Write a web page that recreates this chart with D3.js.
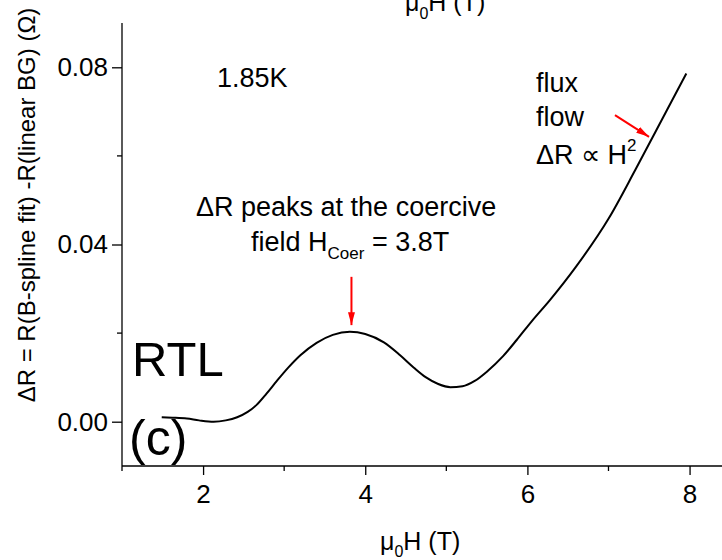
<!DOCTYPE html>
<html>
<head>
<meta charset="utf-8">
<script src="https://cdn.jsdelivr.net/npm/d3@7"></script>
<style>
  body { margin: 0; background: #fff; }
  svg { display: block; font-family: Arial, "Liberation Sans", sans-serif; }
</style>
</head>
<body>
<svg id="chart" width="722" height="560"></svg>
<script>
// field (T) and ΔR (Ω)
var fieldT = [1.49, 1.62, 1.80, 1.95, 2.13, 2.28, 2.42, 2.55, 2.66, 2.78, 2.91, 3.05, 3.20, 3.40, 3.60, 3.81, 4.00, 4.23, 4.43, 4.60, 4.75, 4.90, 5.05, 5.20, 5.35, 5.50, 5.70, 5.87, 6.05, 6.28, 6.60, 7.00, 7.33, 7.72, 7.96];
var deltaR = [0.0010, 0.0009, 0.0007, 0.0003, 0.0000, 0.0003, 0.0010, 0.0022, 0.0038, 0.0063, 0.0092, 0.0122, 0.0150, 0.0178, 0.0196, 0.0203, 0.0198, 0.0179, 0.0150, 0.0122, 0.0100, 0.0085, 0.0078, 0.0080, 0.0092, 0.0113, 0.0148, 0.0185, 0.0226, 0.0275, 0.0350, 0.0458, 0.0568, 0.0703, 0.0786];

var xMajor = [2, 4, 6, 8];
var xMinor = [1, 3, 5, 7];
var yMajor = [0.00, 0.04, 0.08];
var yMinor = [0.02, 0.06];

// arrows: [x0, y0, x1, y1] in data units
var peakArrow = [3.83, 0.0327, 3.83, 0.0218];
var fluxArrow = [7.08, 0.0692, 7.50, 0.0643];

var svg = d3.select("#chart");

var x = d3.scaleLinear().domain([1, 8.4]).range([122, 722]);
var y = d3.scaleLinear().domain([-0.01, 0.09]).range([466, 23]);

svg.append("defs").append("marker")
    .attr("id", "head")
    .attr("viewBox", "0 0 13 7")
    .attr("refX", 13).attr("refY", 3.5)
    .attr("markerWidth", 6.5).attr("markerHeight", 3.5)
    .attr("markerUnits", "strokeWidth")
    .attr("orient", "auto")
    .append("path").attr("d", "M0,0 L13,3.5 L0,7 z").attr("fill", "#ff0000");

// axes
var xAxis = svg.append("g").attr("transform", "translate(0," + y(-0.01) + ")");
xAxis.append("line")
    .attr("x1", x(1)).attr("x2", 722)
    .attr("stroke", "#000").attr("stroke-width", 1.3);
xAxis.call(d3.axisBottom(x).tickValues(xMajor).tickSize(9).tickFormat(d3.format("d")))
    .call(function(g) { g.select(".domain").remove(); });
xAxis.selectAll(".tick line").attr("stroke-width", 1.3);
xAxis.selectAll(".tick text").attr("font-size", 26).attr("font-family", null).attr("dy", null).attr("y", 37);
xAxis.selectAll(".minor").data(xMinor).enter().append("line")
    .attr("x1", function(d) { return x(d); }).attr("x2", function(d) { return x(d); })
    .attr("y1", 0).attr("y2", 5)
    .attr("stroke", "#000").attr("stroke-width", 1.3);

var yAxis = svg.append("g").attr("transform", "translate(" + x(1) + ",0)");
yAxis.append("line")
    .attr("y1", y(-0.01)).attr("y2", y(0.09))
    .attr("stroke", "#000").attr("stroke-width", 1.3);
yAxis.call(d3.axisLeft(y).tickValues(yMajor).tickSize(10).tickPadding(4).tickFormat(d3.format(".2f")))
    .call(function(g) { g.select(".domain").remove(); });
yAxis.selectAll(".tick line").attr("stroke-width", 1.3);
yAxis.selectAll(".tick text").attr("font-size", 26).attr("font-family", null);
yAxis.selectAll(".minor").data(yMinor).enter().append("line")
    .attr("y1", function(d) { return y(d); }).attr("y2", function(d) { return y(d); })
    .attr("x1", 0).attr("x2", -5)
    .attr("stroke", "#000").attr("stroke-width", 1.3);

// axis titles
var xt = svg.append("text").attr("x", 380).attr("y", 550).attr("font-size", 25);
xt.append("tspan").text("\u03bc");
xt.append("tspan").attr("font-size", 16).attr("dy", 7).text("0");
xt.append("tspan").attr("dy", -7).text("H (T)");

// title of the panel above, cut by the top edge
var xtTop = svg.append("text").attr("x", 405).attr("y", 11).attr("font-size", 25);
xtTop.append("tspan").text("\u03bc");
xtTop.append("tspan").attr("font-size", 16).attr("dy", 8).text("0");
xtTop.append("tspan").attr("dy", -8).text("H (T)");

svg.append("text")
    .attr("transform", "translate(35,205) rotate(-90)")
    .attr("text-anchor", "middle")
    .attr("font-size", 24)
    .text("\u0394R = R(B-spline fit) -R(linear BG)  (\u03a9)");

// curve
var pts = fieldT.map(function(d, i) { return [d, deltaR[i]]; });
svg.append("path")
    .datum(pts)
    .attr("fill", "none")
    .attr("stroke", "#000")
    .attr("stroke-width", 2)
    .attr("stroke-linejoin", "round")
    .attr("d", d3.line().x(function(d) { return x(d[0]); }).y(function(d) { return y(d[1]); }).curve(d3.curveMonotoneX));

// arrows
[peakArrow, fluxArrow].forEach(function(a) {
    svg.append("line")
        .attr("x1", x(a[0])).attr("y1", y(a[1]))
        .attr("x2", x(a[2])).attr("y2", y(a[3]))
        .attr("stroke", "#ff0000").attr("stroke-width", 2)
        .attr("marker-end", "url(#head)");
});

// annotations
svg.append("text").attr("x", 217).attr("y", 87).attr("font-size", 27).text("1.85K");

svg.append("text").attr("x", 196).attr("y", 216).attr("font-size", 27).text("\u0394R peaks at the coercive");
var f2 = svg.append("text").attr("x", 251).attr("y", 251).attr("font-size", 27);
f2.append("tspan").text("field H");
f2.append("tspan").attr("font-size", 17).attr("dy", 8).text("Coer");
f2.append("tspan").attr("dy", -8).text(" = 3.8T");

svg.append("text").attr("x", 536).attr("y", 92).attr("font-size", 27).text("flux");
svg.append("text").attr("x", 536).attr("y", 126).attr("font-size", 27).text("flow");
var f3 = svg.append("text").attr("x", 536).attr("y", 164).attr("font-size", 27);
f3.append("tspan").text("\u0394R \u221d H");
f3.append("tspan").attr("font-size", 17).attr("dy", -13).text("2");

svg.append("text").attr("x", 132).attr("y", 376).attr("font-size", 49).text("RTL");
svg.append("text").attr("x", 129).attr("y", 455).attr("font-size", 50).text("(c)");
</script>
</body>
</html>
